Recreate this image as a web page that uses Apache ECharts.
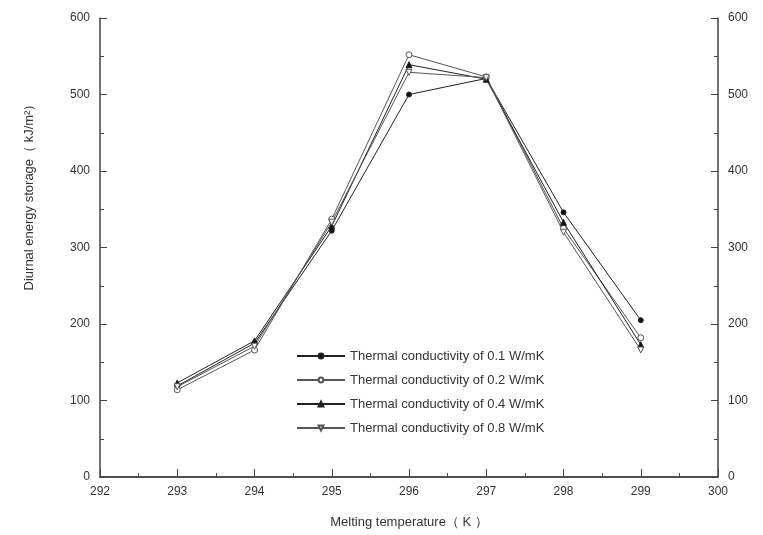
<!DOCTYPE html>
<html>
<head>
<meta charset="utf-8">
<script src="https://cdn.jsdelivr.net/npm/echarts@6/dist/echarts.min.js"></script>
<style>
  html, body { margin: 0; padding: 0; background: #fff; }
  #chart { width: 763px; height: 535px; }
</style>
</head>
<body>
<div id="chart"></div>
<script>
// Melting temperatures (K)
const temps = [293, 294, 295, 296, 297, 298, 299];

// Diurnal energy storage (kJ/m²) for each thermal conductivity
const k01 = [119, 175, 322, 500, 521, 346, 205];
const k02 = [114, 166, 337, 552, 523, 325, 182];
const k04 = [123, 178, 328, 539, 520, 333, 173];
const k08 = [118, 171, 333, 529, 522, 320, 166];

const seriesNames = [
  'Thermal conductivity of 0.1 W/mK',
  'Thermal conductivity of 0.2 W/mK',
  'Thermal conductivity of 0.4 W/mK',
  'Thermal conductivity of 0.8 W/mK'
];

const xTicks = [292, 300, 1];
const yTicks = [0, 600, 100];

const font = 'Liberation Sans, Arial, sans-serif';
const axisColor = '#444';
const textColor = '#333';

function pairs(vals) {
  return temps.map((t, i) => [t, vals[i]]);
}

// marker style per series: filled circle, open circle, filled triangle, open inverted triangle
const styles = [
  { symbol: 'circle', size: 5, fill: '#111', line: '#222' },
  { symbol: 'circle', size: 6, fill: '#fff', line: '#555' },
  { symbol: 'triangle', size: 6, fill: '#111', line: '#222' },
  { symbol: 'path://M0,0 L10,0 L5,9 Z', size: 6, fill: '#fff', line: '#555' }
];

const data = [k01, k02, k04, k08];

const series = data.map((vals, i) => ({
  name: seriesNames[i],
  type: 'line',
  data: pairs(vals),
  symbol: styles[i].symbol,
  symbolSize: styles[i].size,
  showAllSymbol: true,
  lineStyle: { color: styles[i].line, width: 1 },
  itemStyle: { color: styles[i].fill, borderColor: styles[i].line, borderWidth: 1 },
  emphasis: { disabled: true },
  animation: false
}));

const chart = echarts.init(document.getElementById('chart'), null, { renderer: 'canvas' });

const valueAxisCommon = {
  axisLine: { show: true, lineStyle: { color: axisColor, width: 1.5 } },
  splitLine: { show: false },
  axisLabel: { color: textColor, fontFamily: font, fontSize: 12 },
};

chart.setOption({
  backgroundColor: '#fff',
  animation: false,
  grid: { left: 100, right: 45, top: 18, bottom: 58 },
  legend: {
    data: seriesNames,
    orient: 'vertical',
    left: 291,
    top: 343,
    itemWidth: 48,
    itemHeight: 6,
    itemGap: 8,
    textStyle: { color: textColor, fontFamily: font, fontSize: 13, lineHeight: 16 }
  },
  graphic: [{
    type: 'text',
    x: 29,
    y: 194,
    rotation: Math.PI / 2,
    silent: true,
    style: {
      text: 'Diurnal energy storage（ kJ/m²）',
      font: '13px "Liberation Sans", Arial, sans-serif',
      fill: textColor,
      align: 'center',
      verticalAlign: 'middle'
    }
  }],
  xAxis: [
    Object.assign({}, valueAxisCommon, {
      type: 'value',
      position: 'bottom',
      min: xTicks[0], max: xTicks[1], interval: xTicks[2],
      axisTick: { show: true, inside: true, length: 8, lineStyle: { color: axisColor } },
      minorTick: { show: true, splitNumber: 2, length: 4, lineStyle: { color: axisColor } },
      axisLabel: { color: textColor, fontFamily: font, fontSize: 12, margin: 9 },
      name: 'Melting temperature（ K ）',
      nameLocation: 'middle',
      nameGap: 39,
      nameTextStyle: { color: textColor, fontFamily: font, fontSize: 13 }
    }),
    Object.assign({}, valueAxisCommon, {
      type: 'value',
      position: 'top',
      min: xTicks[0], max: xTicks[1], interval: xTicks[2],
      axisTick: { show: false },
      axisLabel: { show: false }
    })
  ],
  yAxis: [
    Object.assign({}, valueAxisCommon, {
      type: 'value',
      position: 'left',
      min: yTicks[0], max: yTicks[1], interval: yTicks[2],
      axisTick: { show: true, inside: true, length: 7, lineStyle: { color: axisColor } },
      minorTick: { show: true, splitNumber: 2, length: 4, lineStyle: { color: axisColor } },
      axisLabel: { color: textColor, fontFamily: font, fontSize: 12, margin: 10 }
    }),
    Object.assign({}, valueAxisCommon, {
      type: 'value',
      position: 'right',
      min: yTicks[0], max: yTicks[1], interval: yTicks[2],
      axisTick: { show: true, inside: true, length: 7, lineStyle: { color: axisColor } },
      minorTick: { show: true, splitNumber: 2, length: 4, lineStyle: { color: axisColor } },
      axisLabel: { color: textColor, fontFamily: font, fontSize: 12, margin: 10 }
    })
  ],
  series: series
});
</script>
</body>
</html>
